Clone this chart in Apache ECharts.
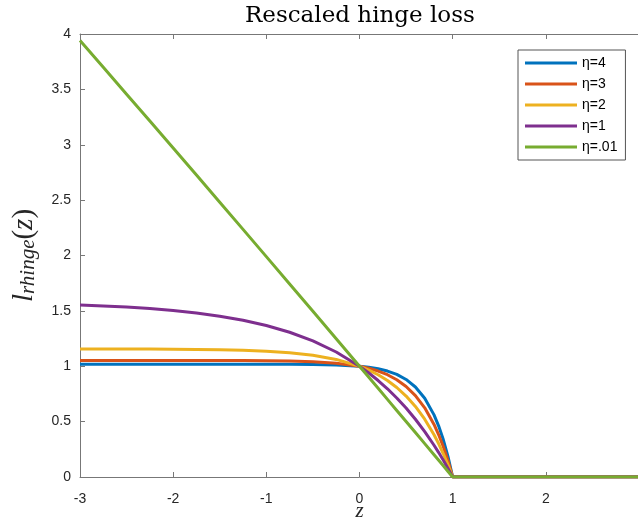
<!DOCTYPE html>
<html>
<head>
<meta charset="utf-8">
<script src="https://cdn.jsdelivr.net/npm/echarts@6/dist/echarts.min.js"></script>
<style>
  html, body { margin: 0; padding: 0; background: #fff; }
  #main { width: 638px; height: 520px; }
</style>
</head>
<body>
<div id="main"></div>
<script>
var zVals = [-3, -2.75, -2.5, -2.25, -2, -1.75, -1.5, -1.25, -1, -0.75, -0.5, -0.25,
  0, 0.1, 0.2, 0.3, 0.4, 0.5, 0.6, 0.7, 0.8, 0.85, 0.9, 0.95, 1, 3];

var eta4 = [1.0187, 1.0187, 1.0187, 1.0187, 1.0187, 1.0186, 1.0186, 1.0185, 1.0183, 1.0177, 1.0161, 1.0118,
  1.0, 0.9908, 0.9771, 0.9567, 0.9262, 0.8808, 0.8130, 0.7118, 0.5609, 0.4596, 0.3358, 0.1847, 0, 0];
var eta3 = [1.0524, 1.0524, 1.0524, 1.0523, 1.0523, 1.0521, 1.0518, 1.0512, 1.0498, 1.0469, 1.0407, 1.0277,
  1.0, 0.9817, 0.9569, 0.9235, 0.8784, 0.8176, 0.7354, 0.6245, 0.4748, 0.3814, 0.2728, 0.1466, 0, 0];
var eta2 = [1.1561, 1.1559, 1.1555, 1.1548, 1.1537, 1.1518, 1.1487, 1.1437, 1.1353, 1.1216, 1.0989, 1.0616,
  1.0, 0.9654, 0.9230, 0.8713, 0.8082, 0.7311, 0.6369, 0.5218, 0.3813, 0.2998, 0.2096, 0.1101, 0, 0];
var eta1 = [1.5530, 1.5448, 1.5342, 1.5206, 1.5032, 1.4808, 1.4521, 1.4152, 1.3679, 1.3071, 1.2290, 1.1287,
  1.0, 0.9388, 0.8712, 0.7964, 0.7138, 0.6225, 0.5216, 0.4100, 0.2868, 0.2204, 0.1506, 0.0772, 0, 0];
var eta001 = [3.9407, 3.6991, 3.4567, 3.2137, 2.9703, 2.7261, 2.4814, 2.2361, 1.9900, 1.7435, 1.4963, 1.2484,
  1.0, 0.9005, 0.8008, 0.7011, 0.6012, 0.5013, 0.4012, 0.3011, 0.2008, 0.1506, 0.1005, 0.0501, 0, 0];

var seriesNames = ['\u03b7=4', '\u03b7=3', '\u03b7=2', '\u03b7=1', '\u03b7=.01'];
var seriesValues = [eta4, eta3, eta2, eta1, eta001];
var colors = ['#0072BD', '#D95319', '#EDB120', '#7E2F8E', '#77AC30'];

var xTicks = { min: -3, max: 3, interval: 1 };
var yTicks = { min: 0, max: 4, interval: 0.5 };

function pairs(ys) {
  return zVals.map(function (z, i) { return [z, ys[i]]; });
}

var chart = echarts.init(document.getElementById('main'));

var axisColor = '#777';
var labelColor = '#262626';

chart.setOption({
  animation: false,
  color: colors,
  title: {
    text: 'Rescaled hinge loss',
    left: 240,
    top: 0,
    textStyle: {
      fontFamily: 'DejaVu Serif',
      fontSize: 23,
      fontWeight: 'normal',
      color: '#000'
    }
  },
  legend: {
    orient: 'vertical',
    left: 518,
    top: 50,
    padding: [6, 8, 6, 7],
    itemWidth: 52,
    itemHeight: 3,
    itemGap: 7,
    icon: 'rect',
    borderColor: '#555',
    borderWidth: 1,
    borderRadius: 0,
    backgroundColor: '#fff',
    textStyle: {
      fontFamily: 'Liberation Sans',
      fontSize: 14,
      color: '#000'
    },
    data: seriesNames
  },
  grid: {
    left: 80,
    top: 34,
    right: -1,
    bottom: 43,
    outerBoundsMode: 'none'
  },
  xAxis: [{
    type: 'value',
    min: xTicks.min,
    max: xTicks.max,
    interval: xTicks.interval,
    name: 'z',
    nameLocation: 'middle',
    nameGap: 24,
    nameMoveOverlap: false,
    nameTextStyle: {
      fontFamily: 'Liberation Serif',
      fontStyle: 'italic',
      fontSize: 21,
      color: '#262626'
    },
    axisLine: { show: true, onZero: false, lineStyle: { color: axisColor, width: 1 } },
    axisTick: { show: true, inside: true, length: 5, lineStyle: { color: axisColor } },
    axisLabel: {
      margin: 15,
      showMaxLabel: false,
      fontFamily: 'Liberation Sans',
      fontSize: 14,
      color: labelColor
    },
    splitLine: { show: false }
  }, {
    type: 'value',
    position: 'top',
    min: xTicks.min,
    max: xTicks.max,
    interval: xTicks.interval,
    axisLine: { show: true, onZero: false, lineStyle: { color: axisColor, width: 1 } },
    axisTick: { show: true, inside: true, length: 5, lineStyle: { color: axisColor } },
    axisLabel: { show: false },
    splitLine: { show: false }
  }],
  yAxis: {
    type: 'value',
    min: yTicks.min,
    max: yTicks.max,
    interval: yTicks.interval,
    name: '{a|l}{b|rhinge}{c|(}{a|z}{c|)}',
    nameLocation: 'middle',
    nameRotate: 90,
    nameGap: 41,
    nameMoveOverlap: false,
    nameTextStyle: {
      color: '#262626',
      rich: {
        a: { fontFamily: 'Liberation Serif', fontStyle: 'italic', fontSize: 29, lineHeight: 30, verticalAlign: 'middle' },
        b: { fontFamily: 'Liberation Serif', fontStyle: 'italic', fontSize: 21, lineHeight: 16, verticalAlign: 'bottom' },
        c: { fontFamily: 'Liberation Serif', fontSize: 29, lineHeight: 30, verticalAlign: 'middle' }
      }
    },
    axisLine: { show: true, onZero: false, lineStyle: { color: axisColor, width: 1 } },
    axisTick: { show: true, inside: true, length: 5, lineStyle: { color: axisColor } },
    axisLabel: {
      margin: 9,
      fontFamily: 'Liberation Sans',
      fontSize: 14,
      color: labelColor
    },
    splitLine: { show: false }
  },
  series: seriesNames.map(function (name, i) {
    return {
      name: name,
      type: 'line',
      showSymbol: false,
      symbol: 'none',
      lineStyle: { width: 3, color: colors[i] },
      data: pairs(seriesValues[i])
    };
  })
});
</script>
</body>
</html>
